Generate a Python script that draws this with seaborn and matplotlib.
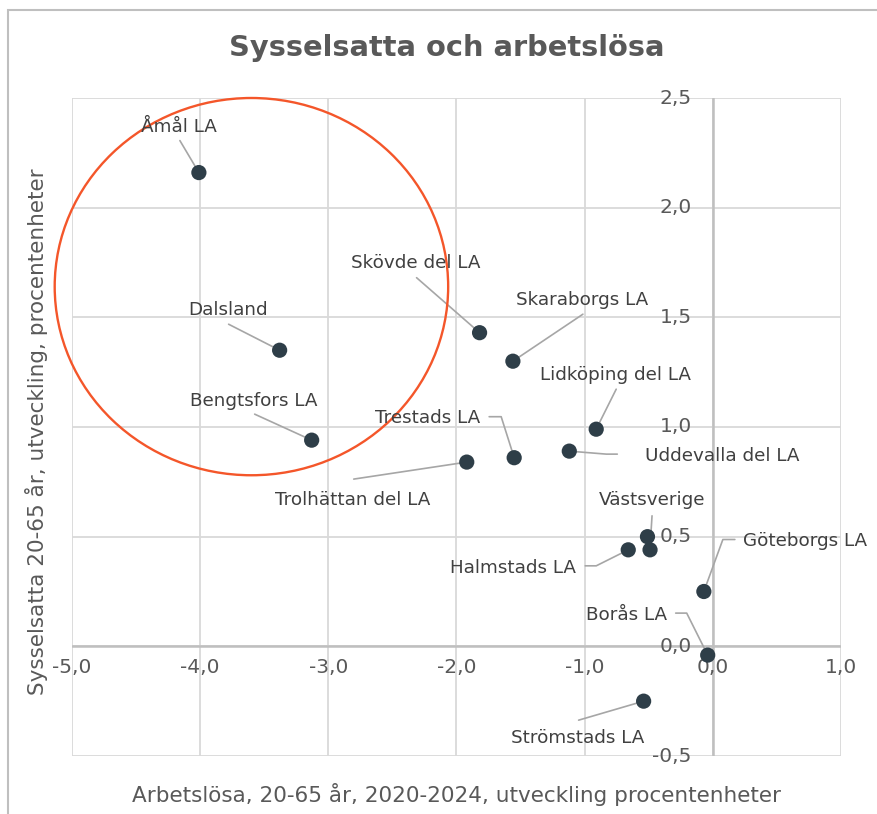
import numpy as np
import pandas as pd
import matplotlib
matplotlib.use('Agg')
import matplotlib.pyplot as plt
import matplotlib.transforms as mtransforms
from matplotlib.patches import Ellipse, Rectangle
import seaborn as sns

sns.set_style('white')
plt.rcParams['font.family'] = ['DejaVu Sans']

# --- data ---
omraden = ['Åmål LA', 'Dalsland', 'Bengtsfors LA', 'Skövde del LA', 'Skaraborgs LA',
           'Lidköping del LA', 'Trestads LA', 'Trolhättan del LA', 'Uddevalla del LA',
           'Västsverige', '', 'Halmstads LA', 'Göteborgs LA', 'Borås LA', 'Strömstads LA']
arbetslosa = [-4.01, -3.38, -3.13, -1.82, -1.56, -0.91, -1.55, -1.92, -1.12,
              -0.49, -0.51, -0.66, -0.07, -0.04, -0.54]
sysselsatta = [2.16, 1.35, 0.94, 1.43, 1.30, 0.99, 0.86, 0.84, 0.89,
               0.44, 0.50, 0.44, 0.25, -0.04, -0.25]

x_ticks = [-5, -4, -3, -2, -1, 0, 1]
y_ticks = [-0.5, 0.0, 0.5, 1.0, 1.5, 2.0, 2.5]

df = pd.DataFrame({'omrade': omraden, 'arbetslosa': arbetslosa, 'sysselsatta': sysselsatta})

# label layout: text offset (px, right/down), alignment, leader vertices (px)
label_layout = {
    'Åmål LA':           ((-20, -46), 'center', [(-19, -32), (0, 0)]),
    'Dalsland':          ((-52, -40), 'center', [(-51, -26), (0, 0)]),
    'Bengtsfors LA':     ((-58, -39), 'center', [(-57, -26), (0, 0)]),
    'Skövde del LA':     ((-64, -70), 'center', [(-63, -55), (0, 0)]),
    'Skaraborgs LA':     ((69, -61), 'center', [(70, -47), (0, 0)]),
    'Lidköping del LA':  ((19, -54), 'center', [(20, -40), (0, 0)]),
    'Trestads LA':       ((-34, -40), 'right', [(-25, -41), (-13, -41), (0, 0)]),
    'Trolhättan del LA': ((-114, 38), 'center', [(-113, 17), (0, 0)]),
    'Uddevalla del LA':  ((76, 5), 'left', [(48, 3), (37, 3), (0, 0)]),
    'Västsverige':       ((2, -50), 'center', [(2, -34), (0, -2)]),
    'Halmstads LA':      ((-52, 18), 'right', [(-43, 16), (-32, 16), (0, 0)]),
    'Göteborgs LA':      ((39, -51), 'left', [(31, -52), (19, -52), (0, 0)]),
    'Borås LA':          ((-41, -40), 'right', [(-32, -42), (-21, -42), (0, 0)]),
    'Strömstads LA':     ((-66, 37), 'center', [(-65, 19), (0, 0)]),
}

W, H = 877, 814
fig = plt.figure(figsize=(W / 100, H / 100), dpi=100)
ax = fig.add_axes([72 / W, 58 / H, 769 / W, 658 / H])

sns.scatterplot(data=df, x='arbetslosa', y='sysselsatta', ax=ax, s=120,
                color='#2E3E48', edgecolor='none', zorder=5, legend=False)

ax.set_xlim(-5, 1)
ax.set_ylim(-0.5, 2.5)
ax.set_xticks(x_ticks)
ax.set_yticks(y_ticks)
ax.tick_params(length=0, labelbottom=False, labelleft=False)
ax.grid(True, color='#D9D9D9', lw=1.3, zorder=0)
ax.set_axisbelow(True)
for sp in ax.spines.values():
    sp.set_visible(False)
ax.axhline(0, color='#BFBFBF', lw=1.8, zorder=1)
ax.axvline(0, color='#BFBFBF', lw=1.8, zorder=1)
ax.set_xlabel('')
ax.set_ylabel('')

def fmt(v):
    return f'{v:.1f}'.replace('.', ',')

for xt in x_ticks:
    ax.annotate(fmt(xt), xy=(xt, 0), xytext=(0, -21 * 0.72), textcoords='offset points',
                ha='center', va='center', fontsize=14.5, color='#595959', annotation_clip=False)
for yt in y_ticks:
    ax.annotate(fmt(yt), xy=(0, yt), xytext=(-21 * 0.72, 0), textcoords='offset points',
                ha='right', va='center', fontsize=14.5, color='#595959', annotation_clip=False)

# data labels and leader lines
px = mtransforms.Affine2D().scale(1 / 100., -1 / 100.) + fig.dpi_scale_trans
for name, xv, yv in zip(omraden, arbetslosa, sysselsatta):
    if name not in label_layout:
        continue
    (dx, dy), ha, verts = label_layout[name]
    tr = px + mtransforms.ScaledTranslation(xv, yv, ax.transData)
    vx, vy = zip(*verts)
    ax.plot(vx, vy, transform=tr, color='#A6A6A6', lw=1.2, zorder=3, clip_on=False)
    ax.annotate(name, xy=(xv, yv), xytext=(dx * 0.72, -dy * 0.72), textcoords='offset points',
                ha=ha, va='center', fontsize=13.2, color='#404040', zorder=6)

# highlighted group
ax.add_patch(Ellipse((-3.60, 1.64), 3.07, 1.72, fill=False, edgecolor='#F4562A',
                     lw=1.7, zorder=4, clip_on=False))

fig.text(447 / W, 1 - 48 / H, 'Sysselsatta och arbetslösa', ha='center', va='center',
         fontsize=20.8, fontweight='bold', color='#595959')
fig.text(456 / W, 1 - 795 / H, 'Arbetslösa, 20-65 år, 2020-2024, utveckling procentenheter',
         ha='center', va='center', fontsize=15.5, color='#595959')
fig.text(37 / W, 1 - 432 / H, 'Sysselsatta 20-65 år, utveckling, procentenheter',
         ha='center', va='center', rotation=90, fontsize=15.5, color='#595959')

fig.patches.append(Rectangle((8 / W, -0.1), 1.2, 1 - 10 / H + 0.1, transform=fig.transFigure,
                             fill=False, edgecolor='#BFBFBF', lw=1.5))

fig.savefig('out.png', dpi=100)
